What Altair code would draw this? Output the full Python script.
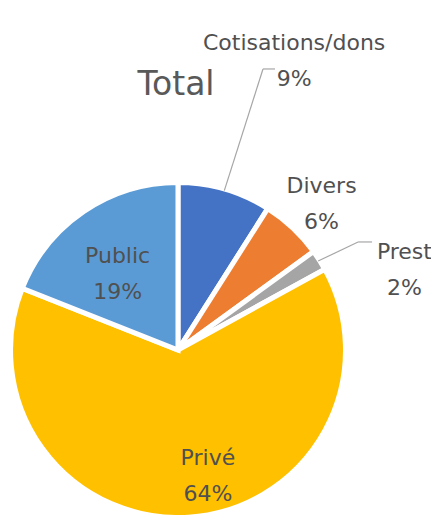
import altair as alt
import pandas as pd

# ---- data ----
categories = ["Cotisations/dons", "Divers", "Prest", "Privé", "Public"]
values = [9, 6, 2, 64, 19]
pct_labels = ["9%", "6%", "2%", "64%", "19%"]
colors = ["#4472C4", "#ED7D31", "#A5A5A5", "#FFC000", "#5B9BD5"]
title_text = "Total"

df = pd.DataFrame({
    "cat": categories,
    "value": values,
    "pct": pct_labels,
    "idx": list(range(len(categories))),
})
total = float(sum(values))

# ---- layout ----
W, H = 423, 507
CX, CY = 170, 342
R = 167.5
FONT = "DejaVu Sans"
LABEL_COLOR = "#505050"
theta_scale = alt.Scale(domain=[0, total])

base = alt.Chart(df)

pie = base.mark_arc(outerRadius=R, stroke="white", strokeWidth=5).encode(
    theta=alt.Theta("value:Q", stack=True, scale=theta_scale),
    color=alt.Color("cat:N", scale=alt.Scale(domain=categories, range=colors), legend=None),
    order=alt.Order("idx:Q"),
    x=alt.value(CX),
    y=alt.value(CY),
)


def with_mid(ch):
    return ch.transform_window(
        cum="sum(value)", sort=[alt.SortField("idx")], frame=[None, 0]
    ).transform_calculate(
        mid="datum.cum - datum.value / 2",
        label="datum.cat + '\\n' + datum.pct",
    )


# label placement: (radius, dx, dy)
label_place = {
    "Cotisations/dons": (326.6, 25, 7),
    "Divers": (218.5, -6, -5),
    "Prest": (243.3, 21, 32),
    "Privé": (110.2, 23, -2),
    "Public": (111.0, 2, -2),
}

layers = [pie]
for cat, (rad, dx, dy) in label_place.items():
    t = with_mid(base).transform_filter(alt.datum.cat == cat).mark_text(
        radius=rad, dx=dx, dy=dy, font=FONT, fontSize=22, color=LABEL_COLOR,
        lineBreak="\n", lineHeight=36, align="center", baseline="middle",
    ).encode(
        theta=alt.Theta("mid:Q", scale=theta_scale),
        text="label:N",
        x=alt.value(CX),
        y=alt.value(CY),
    )
    layers.append(t)

# leader lines: (start radius, elbow radius, elbow angle offset in value units, horizontal length)
leaders = {
    "Cotisations/dons": (166, 293.6, 0.175, 12),
    "Prest": (166, 210, 0.4, 14),
}
for cat, (r1, r2, da, ln) in leaders.items():
    lc = with_mid(base).transform_filter(alt.datum.cat == cat).transform_calculate(
        a1=f"2*PI*datum.mid/{total}",
        a2=f"2*PI*(datum.mid + {da})/{total}",
    ).transform_calculate(
        x1=f"{CX} + {r1}*sin(datum.a1)",
        y1=f"{CY} - {r1}*cos(datum.a1)",
        x2=f"{CX} + {r2}*sin(datum.a2)",
        y2=f"{CY} - {r2}*cos(datum.a2)",
    ).transform_calculate(
        x3=f"datum.x2 + {ln}",
    )
    seg1 = lc.mark_rule(color="#A6A6A6", strokeWidth=1.2).encode(
        x=alt.X("x1:Q", scale=None, axis=None),
        y=alt.Y("y1:Q", scale=None, axis=None),
        x2="x2:Q",
        y2="y2:Q",
    )
    seg2 = lc.mark_rule(color="#A6A6A6", strokeWidth=1.2).encode(
        x=alt.X("x2:Q", scale=None, axis=None),
        y=alt.Y("y2:Q", scale=None, axis=None),
        x2="x3:Q",
        y2="y2:Q",
    )
    layers += [seg1, seg2]

title = alt.Chart(pd.DataFrame({"t": [title_text]})).mark_text(
    font=FONT, fontSize=33, color="#595959", align="center", baseline="alphabetic",
).encode(text="t:N", x=alt.value(168), y=alt.value(87))
layers.append(title)

chart = alt.layer(*layers).properties(
    width=W, height=H, padding=0, background="white",
    autosize=alt.AutoSizeParams(type="none"),
    view=alt.ViewBackground(strokeWidth=0, strokeOpacity=0),
).configure_view(strokeWidth=0, strokeOpacity=0)

chart.save("out.html", embed_options={"renderer": "svg", "actions": False})
